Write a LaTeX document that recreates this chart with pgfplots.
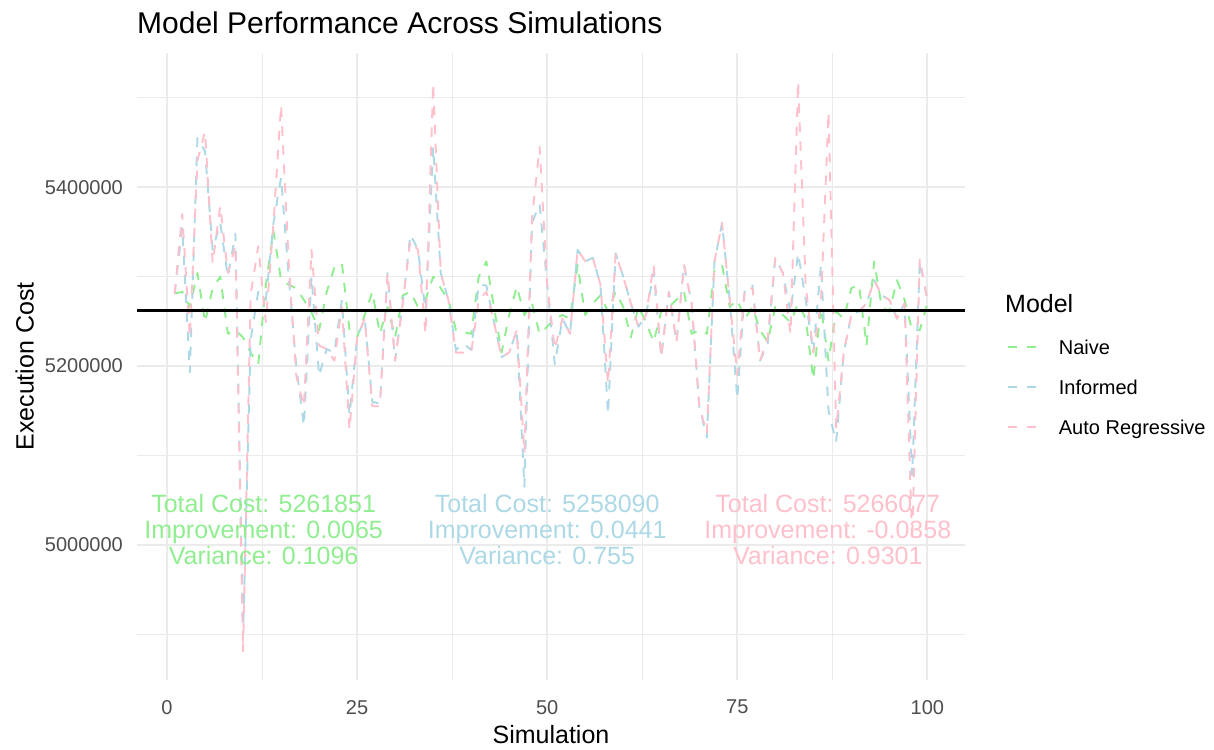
\documentclass[border=0pt]{standalone}
\usepackage{fontspec}
\setmainfont{Liberation Sans}
\usepackage{pgfplots}
\pgfplotsset{compat=1.18}
\usepackage{pgfplotstable}
\definecolor{naive}{HTML}{90EE90}
\definecolor{informed}{HTML}{ADD8E6}
\definecolor{autoreg}{HTML}{FFC0CB}
\definecolor{grey92}{HTML}{EBEBEB}
\definecolor{grey30}{HTML}{4D4D4D}

\pgfplotstableread{
sim naive informed auto
1 5281000 5281000 5281000
2 5283000 5355000 5370000
3 5266000 5193000 5232000
4 5304000 5455000 5430000
5 5249000 5440000 5462000
6 5287000 5330000 5315000
7 5300000 5360000 5379000
8 5236000 5300000 5304000
9 5240000 5348000 5335000
10 5232000 4898000 4881000
11 5215000 5230000 5280000
12 5202000 5283000 5334000
13 5291000 5274000 5249000
14 5351000 5360000 5360000
15 5296000 5411000 5492000
16 5291000 5300000 5317000
17 5287000 5200000 5189000
18 5274000 5133000 5155000
19 5260000 5300000 5330000
20 5240000 5189000 5223000
21 5283000 5219000 5219000
22 5310000 5215000 5206000
23 5315000 5274000 5266000
24 5240000 5145000 5129000
25 5232000 5232000 5232000
26 5257000 5253000 5253000
27 5283000 5160000 5155000
28 5236000 5158000 5155000
29 5266000 5304000 5304000
30 5232000 5206000 5206000
31 5279000 5270000 5270000
32 5283000 5347000 5340000
33 5266000 5330000 5330000
34 5274000 5262000 5236000
35 5300000 5445000 5516000
36 5287000 5304000 5304000
37 5274000 5274000 5274000
38 5240000 5218000 5215000
39 5238000 5225000 5215000
40 5236000 5218000 5215000
41 5300000 5291000 5274000
42 5317000 5290000 5283000
43 5266000 5249000 5249000
44 5215000 5210000 5210000
45 5257000 5215000 5215000
46 5289000 5240000 5240000
47 5257000 5065000 5103000
48 5270000 5360000 5365000
49 5236000 5381000 5445000
50 5244000 5291000 5291000
51 5253000 5202000 5219000
52 5257000 5253000 5253000
53 5253000 5236000 5236000
54 5313000 5330000 5330000
55 5257000 5317000 5317000
56 5270000 5321000 5321000
57 5279000 5291000 5291000
58 5261000 5146000 5180000
59 5283000 5326000 5326000
60 5266000 5300000 5300000
61 5232000 5270000 5270000
62 5266000 5244000 5244000
63 5249000 5257000 5257000
64 5227000 5305000 5313000
65 5261000 5210000 5210000
66 5266000 5283000 5283000
67 5274000 5227000 5227000
68 5283000 5313000 5313000
69 5236000 5270000 5270000
70 5240000 5155000 5155000
71 5236000 5120000 5125000
72 5308000 5317000 5317000
73 5313000 5360000 5360000
74 5266000 5274000 5274000
75 5274000 5163000 5190000
76 5253000 5287000 5287000
77 5266000 5290000 5287000
78 5240000 5206000 5206000
79 5227000 5225000 5232000
80 5266000 5321000 5321000
81 5257000 5304000 5304000
82 5249000 5260000 5236000
83 5270000 5326000 5518000
84 5253000 5274000 5290000
85 5185000 5215000 5215000
86 5266000 5313000 5270000
87 5206000 5150000 5484000
88 5261000 5115000 5130000
89 5253000 5215000 5215000
90 5287000 5257000 5257000
91 5291000 5261000 5261000
92 5223000 5270000 5270000
93 5317000 5296000 5296000
94 5266000 5279000 5279000
95 5261000 5274000 5274000
96 5296000 5253000 5253000
97 5274000 5270000 5270000
98 5240000 5078000 5005000
99 5240000 5317000 5320000
100 5270000 5274000 5274000
}\datatable

\begin{document}
\begin{tikzpicture}
\path[use as bounding box] (0,0) rectangle (1214pt,749pt);
\begin{axis}[
  at={(137pt,69pt)}, anchor=south west, scale only axis,
  width=828pt, height=627pt,
  xmin=-3.95, xmax=104.95, ymin=4849000, ymax=5550000,
  axis line style={draw=none},
  major tick length=0pt, minor tick length=0pt,
  xtick={0,25,50,75,100}, xticklabels={0,25,50,75,100},
  minor xtick={12.5,37.5,62.5,87.5},
  ytick={5000000,5200000,5400000}, yticklabels={5000000,5200000,5400000},
  minor ytick={4900000,5100000,5300000,5500000},
  scaled x ticks=false, scaled y ticks=false,
  grid=both,
  major grid style={draw=grey92, line width=2.2pt},
  minor grid style={draw=grey92, line width=1.1pt},
  ticklabel style={font=\fontsize{20}{24}\selectfont, text=grey30, inner sep=0pt},
  xticklabel style={anchor=north, yshift=-20pt},
  yticklabel style={anchor=east, xshift=-14pt},
  xlabel={Simulation}, ylabel={Execution Cost},
  label style={font=\fontsize{25}{30}\selectfont, inner sep=0pt},
  xlabel style={at={(axis description cs:0.5,-0.07177)}, anchor=north},
  ylabel style={at={(axis description cs:-0.1244,0.5)}, anchor=south},
  legend style={draw=none, fill=none, at={(axis description cs:1.0507,0.5423)},
    anchor=north west, inner sep=0pt, outer sep=0pt, row sep=20pt, column sep=17pt,
    font=\fontsize{20}{24}\selectfont,
    nodes={inner sep=0pt, text height=15pt, text depth=5pt}},
  legend cell align=left,
  legend image code/.code={\draw[#1] (0pt,3pt) -- (33pt,3pt);},
]
\addplot[naive, line width=1.9pt, dash pattern=on 9.5pt off 9.5pt, line join=round] table[x=sim, y=naive] {\datatable};
\addlegendentry{Naive}
\addplot[informed, line width=1.9pt, dash pattern=on 9.5pt off 9.5pt, line join=round] table[x=sim, y=informed] {\datatable};
\addlegendentry{Informed}
\addplot[autoreg, line width=1.9pt, dash pattern=on 9.5pt off 9.5pt, line join=round] table[x=sim, y=auto] {\datatable};
\addlegendentry{Auto Regressive}
\addplot[black, line width=2.5pt, forget plot] coordinates {(-3.95,5262006) (104.95,5262006)};
\node[anchor=base, text=naive, font=\fontsize{25}{30}\selectfont] at (axis cs:12.7,5035760) {Total Cost: 5261851};
\node[anchor=base, text=naive, font=\fontsize{25}{30}\selectfont] at (axis cs:12.7,5006710) {Improvement: 0.0065};
\node[anchor=base, text=naive, font=\fontsize{25}{30}\selectfont] at (axis cs:12.7,4977660) {Variance: 0.1096};
\node[anchor=base, text=informed, font=\fontsize{25}{30}\selectfont] at (axis cs:50,5035760) {Total Cost: 5258090};
\node[anchor=base, text=informed, font=\fontsize{25}{30}\selectfont] at (axis cs:50,5006710) {Improvement: 0.0441};
\node[anchor=base, text=informed, font=\fontsize{25}{30}\selectfont] at (axis cs:50,4977660) {Variance: 0.755};
\node[anchor=base, text=autoreg, font=\fontsize{25}{30}\selectfont] at (axis cs:86.9,5035760) {Total Cost: 5266077};
\node[anchor=base, text=autoreg, font=\fontsize{25}{30}\selectfont] at (axis cs:86.9,5006710) {Improvement: -0.0358};
\node[anchor=base, text=autoreg, font=\fontsize{25}{30}\selectfont] at (axis cs:86.9,4977660) {Variance: 0.9301};
\end{axis}
\node[anchor=base west, inner sep=0pt, font=\fontsize{30}{36}\selectfont] at (137pt,715pt) {Model Performance Across Simulations};
\node[anchor=base west, inner sep=0pt, font=\fontsize{25}{30}\selectfont] at (1005pt,436pt) {Model};
\end{tikzpicture}
\end{document}
